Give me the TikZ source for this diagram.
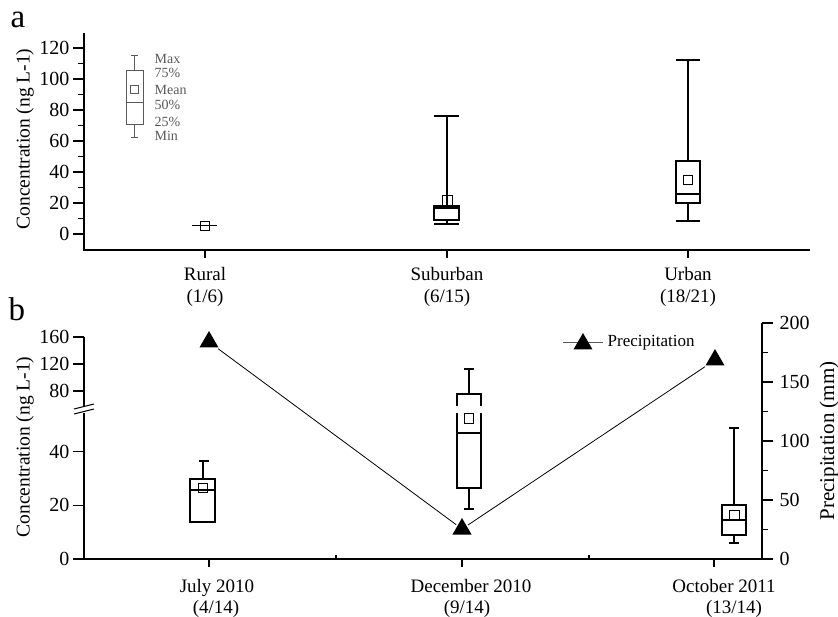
\documentclass[tikz,border=0pt]{standalone}
\usepackage{fontspec}
\setmainfont{Liberation Serif}
\usetikzlibrary{shapes.geometric,positioning}

\begin{document}
\begin{tikzpicture}[x=1pt,y=-1pt,line width=1.3pt,
    ticklab/.style={font=\fontsize{20}{22}\selectfont,inner sep=0pt},
    catlab/.style={font=\fontsize{19}{21}\selectfont,anchor=base,inner sep=0pt},
    axlab/.style={font=\fontsize{19.5}{21}\selectfont,rotate=90,inner sep=0pt},
    panel/.style={font=\fontsize{33}{35}\selectfont,inner sep=0pt},
    meanbox/.style={draw,rectangle,minimum size=9pt,inner sep=0pt,line width=1pt},
    keyline/.style={draw=black!65,line width=1pt},
    keytext/.style={font=\fontsize{14}{15}\selectfont,text=black!65,anchor=west,inner sep=0pt},
    rain/.style={regular polygon,regular polygon sides=3,fill=black,inner sep=0pt,minimum size=22pt}]

    \useasboundingbox (0,0) rectangle (838,617);

    % ---------- panel a ----------
    \node[panel] (pa) at (18,20) {a};
    \draw[line width=1.5pt] (84,33) -- (84,250) -- (810,250);
    \foreach \v in {0,20,...,120}{
        \draw (73,{234-1.55*\v}) -- (84,{234-1.55*\v});
        \node[ticklab,anchor=east] (ya\v) at (70,{234-1.55*\v}) {\v};
    }
    \foreach \v in {10,30,...,110}
        \draw (78,{234-1.55*\v}) -- (84,{234-1.55*\v});
    \node[axlab] (ylaba) at (25,139) {Concentration (ng L-1)};

    \foreach \x/\name/\n [count=\i] in {205/Rural/(1\slash 6),447/Suburban/(6\slash 15),688/Urban/(18\slash 21)}{
        \draw (\x,250) -- (\x,258);
        \node[catlab] (cat\i) at (\x,281) {\name};
        \node[catlab] (num\i) at (\x,303) {\n};
    }

    % key box
    \draw[keyline] (126,71) rectangle (143,125);
    \draw[keyline] (126,103) -- (143,103);
    \draw[keyline] (134.5,56) -- (134.5,71) (131,56) -- (138,56);
    \draw[keyline] (134.5,125) -- (134.5,138) (131,138) -- (138,138);
    \node[meanbox,draw=black!65,minimum size=8pt] (keymean) at (134.5,90) {};
    \foreach \t/\y [count=\i] in {Max/59,75\%/73,Mean/90,50\%/104.5,25\%/122,Min/136}
        \node[keytext] (key\i) at (154,\y) {\t};

    % rural
    \draw (192,225.5) -- (217,225.5);
    \node[meanbox] (mrural) at (205,226.5) {};
    % suburban
    \draw (434,116) -- (459,116) (447,116) -- (447,206);
    \draw (434,206) rectangle (459,220);
    \draw (434,208) -- (459,208);
    \draw (447,220) -- (447,224) (434,224) -- (459,224);
    \node[meanbox,minimum size=10pt] (msub) at (447,200.5) {};
    % urban
    \draw (676,60) -- (700,60) (688,60) -- (688,161);
    \draw (676,161) rectangle (700,203);
    \draw (676,194) -- (700,194);
    \draw (688,203) -- (688,221) (676,221) -- (700,221);
    \node[meanbox] (murb) at (688,180) {};

    % ---------- panel b ----------
    \node[panel] (pb) at (17,309) {b};
    \draw[line width=1.5pt] (84,337) -- (84,406);
    \draw[line width=1.5pt] (84,413) -- (84,559) -- (762,559);
    \draw[line width=1.5pt] (762,323) -- (762,559);
    \draw[line width=1pt] (74,409) -- (94,404) (74,414) -- (94,409);
    \foreach \v in {0,20,40}{
        \draw (73,{559-2.68*\v}) -- (84,{559-2.68*\v});
        \node[ticklab,anchor=east] (yb\v) at (70,{559-2.68*\v}) {\v};
    }
    \foreach \v in {80,120,160}{
        \draw (73,{391-0.675*(\v-80)}) -- (84,{391-0.675*(\v-80)});
        \node[ticklab,anchor=east] (yb\v) at (70,{391-0.675*(\v-80)}) {\v};
    }
    \foreach \p in {0,50,...,200}{
        \draw (762,{559-1.18*\p}) -- (773,{559-1.18*\p});
        \node[ticklab,anchor=west] (yr\p) at (779,{559-1.18*\p}) {\p};
    }
    \foreach \p in {25,75,...,175}
        \draw (762,{559-1.18*\p}) -- (768,{559-1.18*\p});
    \node[axlab] (ylabb) at (25,447) {Concentration (ng L-1)};
    \node[axlab,font=\fontsize{21}{23}\selectfont] (ylabr) at (829,441) {Precipitation (mm)};

    \foreach \x in {209,462,714}
        \draw (\x,559) -- (\x,567);
    \foreach \x in {336,589}
        \draw (\x,559) -- (\x,555);
    \foreach \x/\name/\xn/\n [count=\i] in {217/July 2010/216/(4\slash 14),471/December 2010/467/(9\slash 14),724/October 2011/734/(13\slash 14)}{
        \node[catlab] (mon\i) at (\x,592) {\name};
        \node[catlab] (cnt\i) at (\xn,613) {\n};
    }

    % july
    \draw (199,461) -- (209,461) (203,461) -- (203,479);
    \draw (190,479) rectangle (215,522);
    \draw (190,490) -- (215,490);
    \node[meanbox] (mjul) at (203,488) {};
    % december
    \draw (464,369) -- (474,369) (469,369) -- (469,394);
    \draw (457,406) -- (457,394) -- (481,394) -- (481,406);
    \draw (457,413) -- (457,488) -- (481,488) -- (481,413);
    \draw (457,433) -- (481,433);
    \draw (469,488) -- (469,509) (464,509) -- (474,509);
    \node[meanbox] (mdec) at (468.5,418.5) {};
    % october
    \draw (729,428) -- (739,428) (734,428) -- (734,505);
    \draw (722,505) rectangle (746,535);
    \draw (722,520) -- (746,520);
    \draw (734,535) -- (734,543) (729,543) -- (739,543);
    \node[meanbox,minimum size=10pt] (moct) at (734,515) {};

    % precipitation
    \node[rain] (jul) at (209,342) {};
    \node[rain] (dec) at (462,529) {};
    \node[rain] (oct) at (715,360) {};
    \draw[line width=0.8pt,shorten <=1pt,shorten >=1pt] (jul) -- (dec);
    \draw[line width=0.8pt,shorten <=1pt,shorten >=1pt] (dec) -- (oct);

    % legend
    \draw[keyline] (563,343) -- (603,343);
    \node[rain] (keyrain) at (583,344) {};
    \node[catlab,anchor=west,font=\fontsize{17}{19}\selectfont] (keyprec) at (607,343) {Precipitation};
\end{tikzpicture}
\end{document}
